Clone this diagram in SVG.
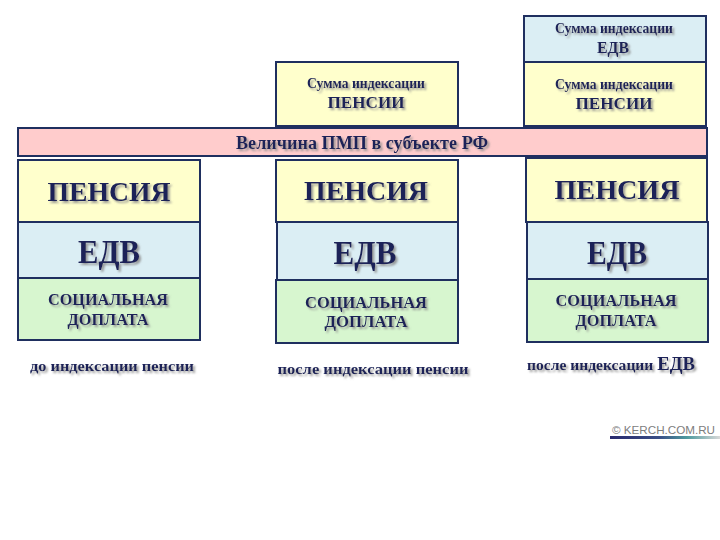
<svg xmlns="http://www.w3.org/2000/svg" width="720" height="540" viewBox="0 0 720 540">
<defs>
<filter id="sh" x="-10%" y="-30%" width="130%" height="170%">
<feDropShadow dx="2" dy="2" stdDeviation="0.8" flood-color="#8a8a8a" flood-opacity="0.85"/>
</filter>
<linearGradient id="bar" x1="0" y1="0" x2="1" y2="0">
<stop offset="0" stop-color="#2a2a6e"/>
<stop offset="0.45" stop-color="#3a4f86"/>
<stop offset="0.7" stop-color="#4e9a9e"/>
<stop offset="1" stop-color="#d8d8d8"/>
</linearGradient>
<style>
.box{stroke:#1f2f5f;stroke-width:2}
.y{fill:#ffffcc}
.b{fill:#dbeef4}
.g{fill:#d7f6cf}
.p{fill:#ffcccc}
.t{font-family:"Liberation Serif","Times New Roman",serif;font-weight:bold;fill:#1b2358;text-anchor:middle;filter:url(#sh)}
</style>
</defs>
<rect width="720" height="540" fill="#ffffff"/>

<g id="pmp">
<rect class="box p" x="18" y="128" width="689" height="28"/>
<text class="t" x="362" y="149" font-size="18" textLength="252" lengthAdjust="spacingAndGlyphs">Величина ПМП в субъекте РФ</text>
</g>

<g id="col1">
<g id="c1-pension"><rect class="box y" x="18" y="160" width="182" height="62"/>
<text class="t" x="109" y="201" font-size="27" textLength="123" lengthAdjust="spacingAndGlyphs">ПЕНСИЯ</text></g>
<g id="c1-edv"><rect class="box b" x="18" y="222" width="182" height="56"/>
<text class="t" x="109" y="263" font-size="34" textLength="62" lengthAdjust="spacingAndGlyphs">ЕДВ</text></g>
<g id="c1-soc"><rect class="box g" x="18" y="278" width="182" height="62"/>
<text class="t" x="108" y="305" font-size="17" textLength="120" lengthAdjust="spacingAndGlyphs">СОЦИАЛЬНАЯ</text>
<text class="t" x="108" y="325" font-size="17" textLength="81" lengthAdjust="spacingAndGlyphs">ДОПЛАТА</text></g>
<text id="c1-label" class="t" x="112" y="371" font-size="15" textLength="164" lengthAdjust="spacingAndGlyphs">до индексации пенсии</text>
</g>

<g id="col2">
<g id="c2-sum-pension"><rect class="box y" x="276" y="62" width="182" height="64"/>
<text class="t" x="366" y="88" font-size="14" textLength="118" lengthAdjust="spacingAndGlyphs">Сумма индексации</text>
<text class="t" x="366" y="108" font-size="17" textLength="77" lengthAdjust="spacingAndGlyphs">ПЕНСИИ</text></g>
<g id="c2-pension"><rect class="box y" x="276" y="160" width="182" height="62"/>
<text class="t" x="366" y="200" font-size="27" textLength="124" lengthAdjust="spacingAndGlyphs">ПЕНСИЯ</text></g>
<g id="c2-edv"><rect class="box b" x="277" y="222" width="181" height="58"/>
<text class="t" x="365" y="264" font-size="34" textLength="63" lengthAdjust="spacingAndGlyphs">ЕДВ</text></g>
<g id="c2-soc"><rect class="box g" x="276" y="280" width="182" height="63"/>
<text class="t" x="366" y="308" font-size="17" textLength="122" lengthAdjust="spacingAndGlyphs">СОЦИАЛЬНАЯ</text>
<text class="t" x="366" y="327" font-size="17" textLength="83" lengthAdjust="spacingAndGlyphs">ДОПЛАТА</text></g>
<text id="c2-label" class="t" x="373" y="374" font-size="15" textLength="191" lengthAdjust="spacingAndGlyphs">после индексации пенсии</text>
</g>

<g id="col3">
<g id="c3-sum-edv"><rect class="box b" x="524" y="16" width="182" height="46"/>
<text class="t" x="614" y="33" font-size="14" textLength="118" lengthAdjust="spacingAndGlyphs">Сумма индексации</text>
<text class="t" x="613" y="53" font-size="16" textLength="32" lengthAdjust="spacingAndGlyphs">ЕДВ</text></g>
<g id="c3-sum-pension"><rect class="box y" x="524" y="62" width="182" height="64"/>
<text class="t" x="614" y="89" font-size="14" textLength="118" lengthAdjust="spacingAndGlyphs">Сумма индексации</text>
<text class="t" x="614" y="109" font-size="17" textLength="77" lengthAdjust="spacingAndGlyphs">ПЕНСИИ</text></g>
<g id="c3-pension"><rect class="box y" x="526" y="158" width="181" height="64"/>
<text class="t" x="617" y="199" font-size="27" textLength="125" lengthAdjust="spacingAndGlyphs">ПЕНСИЯ</text></g>
<g id="c3-edv"><rect class="box b" x="527" y="222" width="181" height="57"/>
<text class="t" x="617" y="264" font-size="34" textLength="60" lengthAdjust="spacingAndGlyphs">ЕДВ</text></g>
<g id="c3-soc"><rect class="box g" x="527" y="279" width="181" height="63"/>
<text class="t" x="616" y="306" font-size="17" textLength="121" lengthAdjust="spacingAndGlyphs">СОЦИАЛЬНАЯ</text>
<text class="t" x="616" y="326" font-size="17" textLength="81" lengthAdjust="spacingAndGlyphs">ДОПЛАТА</text></g>
<text id="c3-label" class="t" x="611" y="370" font-size="15" textLength="168" lengthAdjust="spacingAndGlyphs">после индексации <tspan font-size="18">ЕДВ</tspan></text>
</g>

<g id="badge">
<rect x="610" y="436" width="110" height="3" fill="url(#bar)"/>
<text x="612" y="434" font-family="'Liberation Sans',Arial,sans-serif" font-size="11" fill="#7d7d7d" textLength="103" lengthAdjust="spacingAndGlyphs">© KERCH.COM.RU</text>
</g>
</svg>
